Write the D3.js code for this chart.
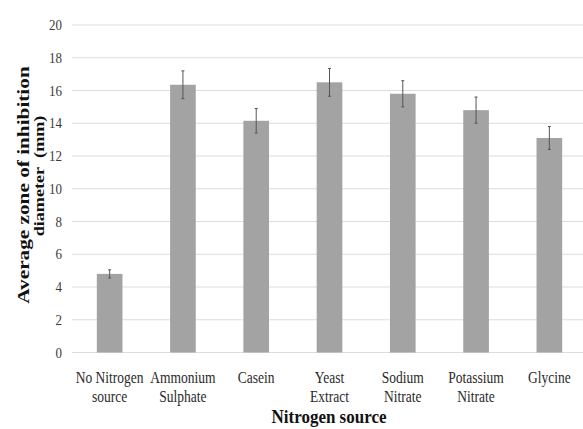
<!DOCTYPE html>
<html><head><meta charset="utf-8">
<script src="https://cdn.jsdelivr.net/npm/d3@7/dist/d3.min.js"></script>
<style>
body{margin:0;background:#fff;}
svg{display:block;}
svg text{font-family:'Liberation Serif','Times New Roman',Times,'DejaVu Serif',serif;}
</style></head>
<body><svg id="c" width="583" height="429"></svg>
<script>
const categories = [["No Nitrogen","source"],["Ammonium","Sulphate"],["Casein"],["Yeast","Extract"],["Sodium","Nitrate"],["Potassium","Nitrate"],["Glycine"]];
const values = [4.8, 16.35, 14.15, 16.5, 15.8, 14.8, 13.1];
const errors = [0.25, 0.85, 0.75, 0.85, 0.8, 0.8, 0.7];
const yTicks = [0,2,4,6,8,10,12,14,16,18,20];
const yTitle = ["Average zone of inhibition","diameter\u00a0 (mm)"];
const xTitle = "Nitrogen source";

const svg = d3.select("#c");
const keys = categories.map(c=>c.join(" "));
const x = d3.scaleBand().domain(keys).range([73,586]).paddingInner(0.65).paddingOuter(0.325);
const y = d3.scaleLinear().domain([0,20]).range([352.5,25]);

svg.append("g").selectAll("line").data(yTicks).join("line")
  .attr("x1",72).attr("x2",583)
  .attr("y1",d=>y(d)).attr("y2",d=>y(d))
  .attr("stroke","#dcdcdc").attr("stroke-width",1);

const yAxis = d3.axisLeft(y).tickValues(yTicks).tickSize(0).tickPadding(0);
const ga = svg.append("g").attr("transform","translate(62,0)").call(yAxis);
ga.attr("font-family",null);
ga.select(".domain").remove();
ga.selectAll("text").attr("font-size",13).attr("fill","#3a3a3a")
  .attr("dy",null).attr("y",0)
  .attr("transform","translate(0,4.5) scale(1,1.2)");

svg.append("g").selectAll("rect").data(values).join("rect")
  .attr("x",(d,i)=>x(keys[i])).attr("width",x.bandwidth())
  .attr("y",d=>y(d)).attr("height",d=>y(0)-y(d))
  .attr("fill","#a3a3a3");

const eg = svg.append("g").attr("stroke","#555").attr("stroke-width",1);
values.forEach((v,i)=>{
  const cx = x(keys[i]) + x.bandwidth()/2;
  eg.append("line").attr("x1",cx).attr("x2",cx).attr("y1",y(v+errors[i])).attr("y2",y(v-errors[i]));
  eg.append("line").attr("x1",cx-1.5).attr("x2",cx+1.5).attr("y1",y(v+errors[i])).attr("y2",y(v+errors[i]));
  eg.append("line").attr("x1",cx-1.5).attr("x2",cx+1.5).attr("y1",y(v-errors[i])).attr("y2",y(v-errors[i]));
});

categories.forEach((lines,i)=>{
  const cx = x(keys[i]) + x.bandwidth()/2;
  lines.forEach((l,j)=>{
    svg.append("text").attr("text-anchor","middle").attr("font-size",13.5).attr("fill","#2a2a2a")
      .attr("transform",`translate(${cx},${383+j*19}) scale(1,1.25)`).text(l);
  });
});

svg.append("text").attr("text-anchor","middle")
  .attr("transform","translate(329,423) scale(1,1.1)")
  .attr("font-size",17).attr("font-weight","bold").attr("fill","#111").text(xTitle);

svg.append("text").attr("text-anchor","middle")
  .attr("transform","translate(29,185) scale(1,1.25) rotate(-90)")
  .attr("font-size",17).attr("font-weight","bold").attr("fill","#111").text(yTitle[0]);
svg.append("text").attr("text-anchor","middle")
  .attr("transform","translate(44,176) scale(1,1.25) rotate(-90)")
  .attr("font-size",14.5).attr("font-weight","bold").attr("fill","#111").text(yTitle[1]);
</script></body></html>
